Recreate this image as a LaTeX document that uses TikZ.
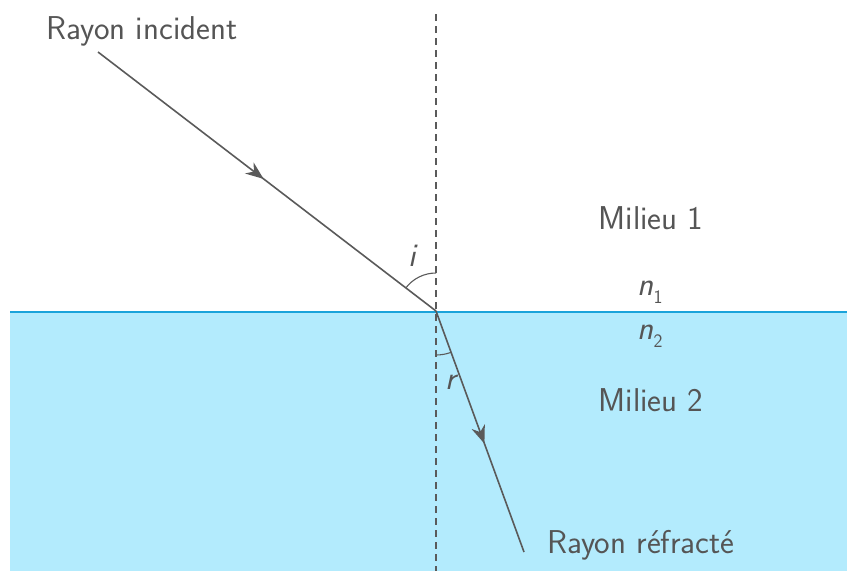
\documentclass[tikz,border=0pt]{standalone}
\usetikzlibrary{arrows.meta,decorations.markings}
\renewcommand{\familydefault}{\sfdefault}
\definecolor{txt}{HTML}{555555}
\definecolor{ray}{HTML}{5A5A5A}
\definecolor{water}{HTML}{B3EBFD}
\definecolor{surf}{HTML}{1AA3DA}
\begin{document}
\begin{tikzpicture}[x=1pt,y=-1pt,
  lbl/.style={text=txt,font=\fontsize{33}{38}\selectfont\sffamily,inner sep=0pt},
  raypath/.style={draw=ray,line width=1.6pt,postaction={decorate},
    decoration={markings,mark=at position #1 with {\arrow{Stealth[length=18pt,width=14pt]}}}},
  anglearc/.style={draw=ray,line width=1.1pt}]
\useasboundingbox (0,0) rectangle (847,571);
\fill[water] (10,311) rectangle (847,571);
\draw[surf,line width=2pt] (10,311.5) -- (847,311.5);
\draw[ray,line width=1.4pt,dash pattern=on 7pt off 5pt] (436,14) -- (436,571);
\coordinate (I) at (436,311);
\coordinate (A) at (98,52);
\coordinate (B) at (524,552);
\draw[raypath=0.49] (A) -- (I);
\draw[raypath=0.55] (I) -- (B);
\draw[anglearc] (436,273) arc[start angle=270,end angle=217.5,radius=38];
\draw[anglearc] (436,355) arc[start angle=90,end angle=70,radius=44];
\node[lbl] (tinc) at (142,31) {Rayon incident};
\node[lbl] (tm1) at (651,218) {Milieu 1};
\node[lbl] (tn1) at (650,292) {\textit{n}\raisebox{-8pt}{\fontsize{19}{22}\selectfont 1}};
\node[lbl] (tn2) at (650,336) {\textit{n}\raisebox{-8pt}{\fontsize{19}{22}\selectfont 2}};
\node[lbl] (tm2) at (651,400) {Milieu 2};
\node[lbl] (tref) at (641,545) {Rayon réfracté};
\node[lbl] (ti) at (413,256) {\textit{i}};
\node[lbl] (tr) at (452,382) {\textit{r}};
\end{tikzpicture}
\end{document}
